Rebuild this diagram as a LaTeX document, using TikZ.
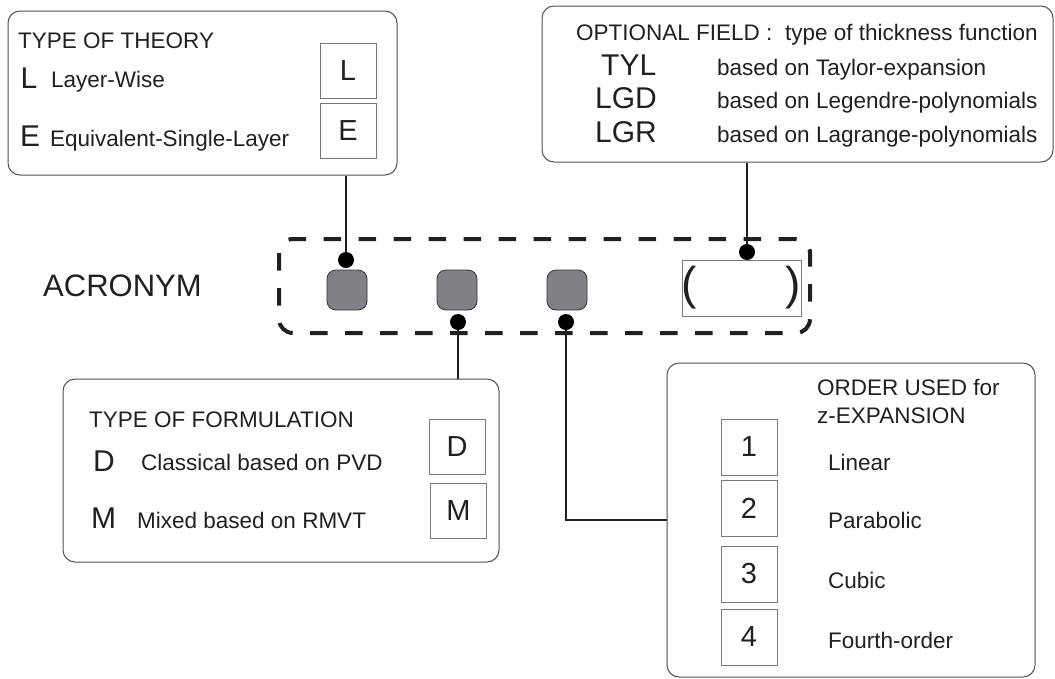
\documentclass[tikz,border=0pt]{standalone}
\usepackage{fontspec}
\setmainfont{Liberation Sans}

\definecolor{keygray}{RGB}{128,129,134}
\definecolor{panelline}{RGB}{80,80,80}
\definecolor{letterline}{RGB}{120,120,120}
\definecolor{inkcol}{RGB}{35,31,32}

\tikzset{
  panel/.style={draw=panelline, line width=1pt, rounded corners=12pt, inner sep=0pt},
  keybox/.style={draw=black!80, fill=keygray, line width=0.8pt, rounded corners=9pt,
    minimum width=40pt, minimum height=40pt, inner sep=0pt},
  letterbox/.style={draw=letterline, line width=1pt, minimum width=56pt, minimum height=55pt,
    inner sep=0pt, font=\fontsize{29}{32}\selectfont},
  dot/.style={circle, fill=black, minimum size=16pt, inner sep=0pt},
  txt/.style={anchor=base west, inner sep=0pt, font=\fontsize{22.5}{26}\selectfont},
  bigtxt/.style={anchor=base west, inner sep=0pt, font=\fontsize{30}{34}\selectfont},
  link/.style={line width=1.2pt},
}

\begin{document}
\begin{tikzpicture}[x=1pt, y=-1pt, color=inkcol]
        \useasboundingbox (0,0) rectangle (1055,678);

        % Draw the four panels
        \node[panel, minimum width=389pt, minimum height=164pt] (theory) at (202.5,93) {};
        \node[panel, minimum width=511pt, minimum height=156pt] (thick) at (797.5,84) {};
        \node[panel, minimum width=436pt, minimum height=183pt] (form) at (281,470.5) {};
        \node[panel, minimum width=368pt, minimum height=314pt] (order) at (851,520) {};

        % Draw the acronym row
        \node[anchor=base west, inner sep=0pt, font=\fontsize{31}{34}\selectfont] (acrolabel) at (43,296) {ACRONYM};
        \node[draw, line width=4pt, dash pattern=on 17.5pt off 17.5pt, rounded corners=14pt,
          minimum width=531pt, minimum height=94pt] (acro) at (544.5,286) {};
        \node[keybox] (k1) at (347,290) {};
        \node[keybox] (k2) at (457,290) {};
        \node[keybox] (k3) at (567,290) {};
        \node[draw=letterline, line width=1pt, minimum width=119pt, minimum height=56pt] (opt) at (741.5,288) {};
        \node[anchor=west, inner sep=0pt, font=\fontsize{46}{46}\selectfont] (lpar) at (opt.west) {(};
        \node[anchor=east, inner sep=0pt, font=\fontsize{46}{46}\selectfont] (rpar) at (opt.east) {)};

        % Dots and connectors
        \node[dot] (d1) at (346,260) {};
        \node[dot] (d2) at (458,322) {};
        \node[dot] (d3) at (566,322) {};
        \node[dot] (d4) at (747,252) {};
        \draw[link] (d1) -- (d1 |- theory.south);
        \draw[link] (d4) -- (d4 |- thick.south);
        \draw[link] (d2) -- (d2 |- form.north);
        \draw[link] (d3) |- (order.west);

        % Type of theory
        \node[txt] (thtitle) at (18,48) {TYPE OF THEORY};
        \node[bigtxt] (lkey) at (20.5,88) {L};
        \node[txt] (lname) at (51,87) {Layer-Wise};
        \node[bigtxt] (ekey) at (20,146) {E};
        \node[txt] (ename) at (50,146) {Equivalent-Single-Layer};
        \node[letterbox] (lbox) at (348,71) {L};
        \node[letterbox] (ebox) at (348,131) {E};

        % Optional field
        \node[txt] (optitle) at (576,40) {OPTIONAL FIELD :\ \ type of thickness function};
        \node[bigtxt] (tyl) at (601,75) {TYL};
        \node[bigtxt] (lgd) at (595,108.5) {LGD};
        \node[bigtxt] (lgr) at (595,142) {LGR};
        \node[txt] (tylname) at (717,75) {based on Taylor-expansion};
        \node[txt] (lgdname) at (717,108.5) {based on Legendre-polynomials};
        \node[txt] (lgrname) at (717,142) {based on Lagrange-polynomials};

        % Type of formulation
        \node[txt] (fmtitle) at (89,427) {TYPE OF FORMULATION};
        \node[bigtxt] (dkey) at (93,471) {D};
        \node[txt] (dname) at (141,470) {Classical based on PVD};
        \node[bigtxt] (mkey) at (91,528) {M};
        \node[txt] (mname) at (137,528) {Mixed based on RMVT};
        \node[letterbox] (dbox) at (457,447) {D};
        \node[letterbox] (mbox) at (458.5,511) {M};

        % Order of the z-expansion
        \node[txt] (ortitle) at (817,395) {ORDER USED for};
        \node[txt] (ortitlez) at (817,423) {z-EXPANSION};
        \foreach \n/\by/\ly/\lab in {1/447/470/Linear, 2/508.5/528/Parabolic,
                                     3/574/588/Cubic, 4/637/648/Fourth-order} {
          \node[letterbox, minimum height=56pt] (num\n) at (749,\by) {\n};
          \node[txt] (ordname\n) at (828,\ly) {\lab};
        }
\end{tikzpicture}
\end{document}
